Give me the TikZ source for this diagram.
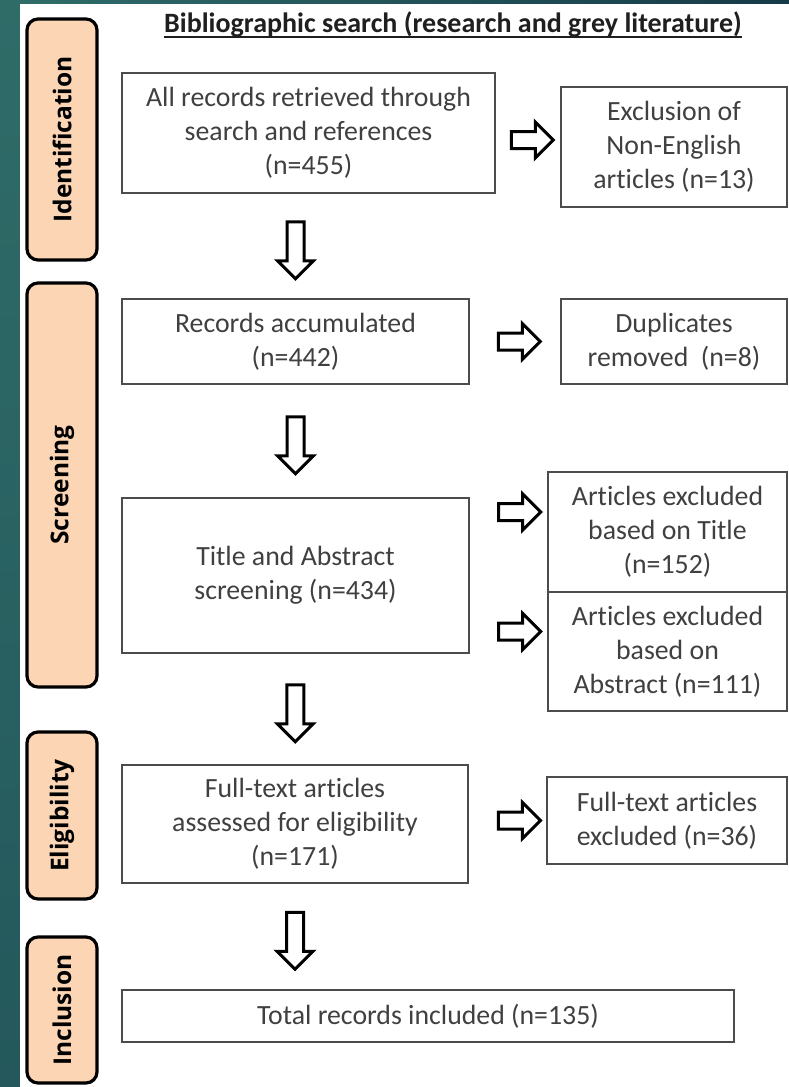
\documentclass[tikz,border=0pt]{standalone}
\usepackage{fontspec}
\setmainfont{Carlito}[Ligatures=NoCommon]
\newfontfamily\stagefont{Open Sans}[Ligatures=NoCommon]
\usetikzlibrary{shapes.arrows}
\definecolor{tealtop}{RGB}{47,108,104}
\definecolor{tealbot}{RGB}{36,88,92}
\definecolor{tealnavy}{RGB}{22,58,72}
\definecolor{peach}{RGB}{252,213,181}

\begin{document}
\begin{tikzpicture}[x=1pt,y=-1pt]
\tikzset{recbox/.style={draw=black!70, line width=1.6pt, fill=white, align=center, text=black!75, inner sep=0pt, font=\fontsize{27.8}{34}\selectfont}}
\tikzset{stage/.style={draw=black, line width=3.2pt, rounded corners=11pt, fill=peach, rotate=90, minimum height=70pt, inner sep=0pt, font=\stagefont\bfseries\fontsize{24.5}{28}\selectfont}}
\tikzset{rblock/.style={single arrow, draw=black, line width=3pt, fill=white, inner xsep=0pt, inner ysep=7pt, single arrow head extend=9.5pt, minimum height=42pt}}
\tikzset{dblock/.style={rblock, rotate=-90, minimum height=57pt}}

\useasboundingbox (0,0) rectangle (789,1087);
\shade[top color=tealtop, bottom color=tealbot] (0,0) rectangle (20,1087);
\shade[left color=tealtop, right color=tealnavy] (20,0) rectangle (789,4);
\fill[white] (20,4) rectangle (789,1087);

\node[stage, minimum width=241pt] (sid) at (62,139.5) {Identification};
\node[stage, minimum width=404pt] (ssc) at (62,485) {Screening};
\node[stage, minimum width=167pt] (sel) at (62,815.5) {Eligibility};
\node[stage, minimum width=146pt] (sin) at (62,1010) {Inclusion};

\node[anchor=base, inner sep=0pt, text=black!88, font=\bfseries\fontsize{28}{34}\selectfont] (ttl) at (453,32) {Bibliographic search (research and grey literature)};
\draw[black!88, line width=1.8pt] ([yshift=-5pt]ttl.base west) -- ([yshift=-5pt]ttl.base east);

\node[recbox, minimum width=373pt, minimum height=120pt] (id) at (308.5,133) {All records retrieved through\\search and references\\(n=455)};
\node[recbox, minimum width=226pt, minimum height=120pt] (excl) at (674,147) {Exclusion of\\Non-English\\articles (n=13)};
\node[recbox, minimum width=347pt, minimum height=85pt] (acc) at (295.5,341.5) {Records accumulated\\(n=442)};
\node[recbox, minimum width=226pt, minimum height=85pt] (dup) at (674,341.5) {Duplicates\\removed~ (n=8)};
\node[recbox, minimum width=347pt, minimum height=155pt] (scr) at (295.5,575.5) {Title and Abstract\\screening (n=434)};
\node[recbox, minimum width=239pt, minimum height=120pt] (exT) at (667.5,532) {Articles excluded\\based on Title\\(n=152)};
\node[recbox, minimum width=239pt, minimum height=119pt] (exA) at (667.5,651.5) {Articles excluded\\based on\\Abstract (n=111)};
\node[recbox, minimum width=346pt, minimum height=118pt] (elig) at (295,824) {Full-text articles\\assessed for eligibility\\(n=171)};
\node[recbox, minimum width=240pt, minimum height=87pt] (exFT) at (667,820.5) {Full-text articles\\excluded (n=36)};
\node[recbox, minimum width=612pt, minimum height=52pt] (incl) at (428,1016) {Total records included (n=135)};

\coordinate (t3) at ([yshift=20pt]exT.west);
\coordinate (t4) at ([yshift=20pt]exA.west);

\path (id.east) -- node[rblock] (a1) {} (excl.west);
\path (acc.east) -- node[rblock] (a2) {} (dup.west);
\path (t3 -| scr.east) -- node[rblock, pos=.59] (a3) {} (t3);
\path (t4 -| scr.east) -- node[rblock, pos=.59] (a4) {} (t4);
\path (elig.east |- exFT.west) -- node[rblock, pos=.6] (a5) {} (exFT.west);

\path (id.south -| scr) -- node[dblock] (d1) {} (acc.north);
\path (acc.south) -- node[dblock] (d2) {} (scr.north);
\path (scr.south) -- node[dblock] (d3) {} (elig.north);
\path (elig.south) -- node[dblock] (d4) {} (elig.south |- incl.north);

\end{tikzpicture}
\end{document}
